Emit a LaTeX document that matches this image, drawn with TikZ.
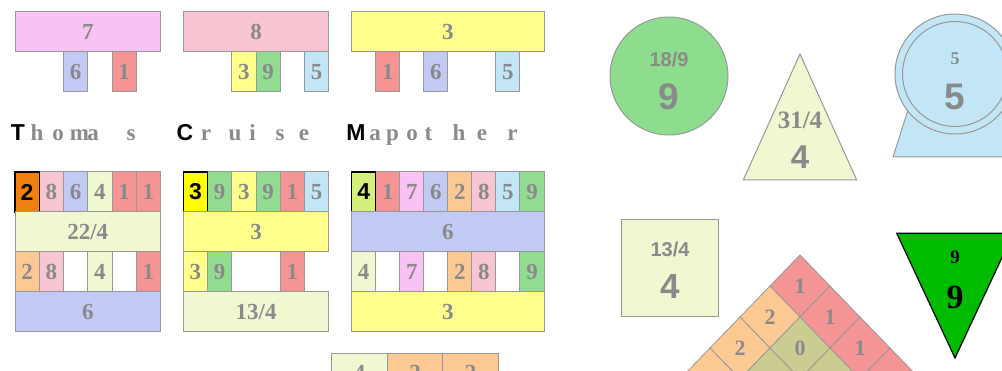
\documentclass[tikz,border=0pt]{standalone}
\usepackage{fontspec}
\setmainfont{Liberation Serif}
\newfontfamily\sansf{Liberation Sans}
\definecolor{txt}{HTML}{8A8A8A}
\definecolor{bord}{HTML}{989898}
\definecolor{cMag}{HTML}{F8C2F2}
\definecolor{cPink}{HTML}{F8C6D2}
\definecolor{cYel}{HTML}{FFFF8C}
\definecolor{cBlue}{HTML}{C2CAF4}
\definecolor{cRed}{HTML}{F49494}
\definecolor{cGreen}{HTML}{92DC92}
\definecolor{cLBlue}{HTML}{C2E6F6}
\definecolor{cLG}{HTML}{F0F8D2}
\definecolor{cOr}{HTML}{FCC992}
\definecolor{cDOr}{HTML}{F08010}
\definecolor{cBY}{HTML}{FFFF00}
\definecolor{cYG}{HTML}{D4F07A}
\definecolor{cOlive}{HTML}{CACC92}
\definecolor{cCirc}{HTML}{8EDC8E}
\definecolor{cGT}{HTML}{00BB00}
\tikzset{
  cell/.style={draw=bord, line width=1pt, inner sep=0pt, outer sep=0pt,
    minimum height=40pt, text=txt, font=\bfseries\fontsize{23}{23}\selectfont},
  boldcell/.style={cell, draw=black, line width=1.4pt, text=black,
    font=\sansf\bfseries\fontsize{23}{23}\selectfont},
  capl/.style={inner sep=0pt, anchor=base, text=black, font=\sansf\bfseries\fontsize{23}{23}\selectfont},
  lowl/.style={inner sep=0pt, anchor=base, text=txt, font=\bfseries\fontsize{23}{23}\selectfont},
  shp/.style={draw=bord, line width=1pt},
  lbl/.style={inner sep=0pt, text=txt},
}
\begin{document}
\begin{tikzpicture}[x=1pt,y=-1pt]
\useasboundingbox (0,0) rectangle (1002,371);
\clip (0,0) rectangle (1002,371);
% ---------- top boxes ----------
\def\w{24.25}
\node[cell, fill=cMag, minimum width=145.5pt] (t7) at (87.75,32) {7};
\node[cell, fill=cBlue, minimum width=\w pt] (t7a) at ({15+\w*2.5},72) {6};
\node[cell, fill=cRed, minimum width=\w pt] (t7b) at ({15+\w*4.5},72) {1};
\node[cell, fill=cPink, minimum width=145.5pt] (t8) at (256.05,32) {8};
\node[cell, fill=cYel, minimum width=\w pt] (t8a) at ({183.3+\w*2.5},72) {3};
\node[cell, fill=cGreen, minimum width=\w pt] (t8b) at ({183.3+\w*3.5},72) {9};
\node[cell, fill=cLBlue, minimum width=\w pt] (t8c) at ({183.3+\w*5.5},72) {5};
\def\v{24.04}
\node[cell, fill=cYel, minimum width=192.3pt] (t3) at (447.85,32) {3};
\node[cell, fill=cRed, minimum width=\v pt] (t3a) at ({351.7+\v*1.5},72) {1};
\node[cell, fill=cBlue, minimum width=\v pt] (t3b) at ({351.7+\v*3.5},72) {6};
\node[cell, fill=cLBlue, minimum width=\v pt] (t3c) at ({351.7+\v*6.5},72) {5};
% ---------- names ----------
\node[capl] (nT) at (18,141) {T};
\node[lowl] (n1) at (37,141) {h};
\node[lowl] (n2) at (58,141) {o};
\node[lowl] (n3) at (79.5,141) {m};
\node[lowl] (n4) at (93,141) {a};
\node[lowl] (n5) at (131,141) {s};
\node[capl] (nC) at (185,141) {C};
\node[lowl] (c1) at (206,141) {r};
\node[lowl] (c2) at (235,141) {u};
\node[lowl] (c3) at (252.5,141) {i};
\node[lowl] (c4) at (280,141) {s};
\node[lowl] (c5) at (304,141) {e};
\node[capl] (nM) at (356,141) {M};
\node[lowl] (m1) at (375,141) {a};
\node[lowl] (m2) at (392.5,141) {p};
\node[lowl] (m3) at (412,141) {o};
\node[lowl] (m4) at (428.5,141) {t};
\node[lowl] (m5) at (459,141) {h};
\node[lowl] (m6) at (482,141) {e};
\node[lowl] (m7) at (512.5,141) {r};
% ---------- Thomas grid ----------
\foreach \i/\c/\t in {1/cPink/8, 2/cBlue/6, 3/cLG/4, 4/cRed/1, 5/cRed/1}
  \node[cell, fill=\c, minimum width=\w pt] (th1\i) at ({15+\w*(\i+0.5)},192) {\t};
\node[boldcell, fill=cDOr, minimum width=\w pt] (th10) at ({15+\w*0.5},192) {2};
\node[cell, fill=cLG, minimum width=145.5pt] (th2) at (87.75,232) {22/4};
\foreach \i/\c/\t in {0/cOr/2, 1/cPink/8, 3/cLG/4, 5/cRed/1}
  \node[cell, fill=\c, minimum width=\w pt] (th3\i) at ({15+\w*(\i+0.5)},272) {\t};
\node[cell, fill=cBlue, minimum width=145.5pt] (th4) at (87.75,312) {6};
% ---------- Cruise grid ----------
\foreach \i/\c/\t in {1/cGreen/9, 2/cYel/3, 3/cGreen/9, 4/cRed/1, 5/cLBlue/5}
  \node[cell, fill=\c, minimum width=\w pt] (cr1\i) at ({183.3+\w*(\i+0.5)},192) {\t};
\node[boldcell, fill=cBY, minimum width=\w pt] (cr10) at ({183.3+\w*0.5},192) {3};
\node[cell, fill=cYel, minimum width=145.5pt] (cr2) at (256.05,232) {3};
\foreach \i/\c/\t in {0/cYel/3, 1/cGreen/9, 4/cRed/1}
  \node[cell, fill=\c, minimum width=\w pt] (cr3\i) at ({183.3+\w*(\i+0.5)},272) {\t};
\node[cell, fill=cLG, minimum width=145.5pt] (cr4) at (256.05,312) {13/4};
% ---------- Mapother grid ----------
\foreach \i/\c/\t in {1/cRed/1, 2/cMag/7, 3/cBlue/6, 4/cOr/2, 5/cPink/8, 6/cLBlue/5, 7/cGreen/9}
  \node[cell, fill=\c, minimum width=\v pt] (ma1\i) at ({351.7+\v*(\i+0.5)},192) {\t};
\node[boldcell, fill=cYG, minimum width=\v pt] (ma10) at ({351.7+\v*0.5},192) {4};
\node[cell, fill=cBlue, minimum width=192.3pt] (ma2) at (447.85,232) {6};
\foreach \i/\c/\t in {0/cLG/4, 2/cMag/7, 4/cOr/2, 5/cPink/8, 7/cGreen/9}
  \node[cell, fill=\c, minimum width=\v pt] (ma3\i) at ({351.7+\v*(\i+0.5)},272) {\t};
\node[cell, fill=cYel, minimum width=192.3pt] (ma4) at (447.85,312) {3};
% ---------- bottom partial row ----------
\node[cell, fill=cLG, minimum width=55.6pt] (b1) at (359.5,373.3) {4};
\node[cell, fill=cOr, minimum width=55.6pt] (b2) at (415.0,373.3) {2};
\node[cell, fill=cOr, minimum width=55.6pt] (b3) at (470.5,373.3) {2};
% ---------- green circle ----------
\node[shp, circle, fill=cCirc, minimum size=118pt, inner sep=0pt] (circ) at (669,76) {};
\node[lbl, font=\sansf\bfseries\fontsize{20}{20}\selectfont] (circa) at (669,59) {18/9};
\node[lbl, font=\sansf\bfseries\fontsize{37}{37}\selectfont] (circb) at (669,97) {9};
% ---------- yellow triangle ----------
\coordinate (ta) at (800,54);
\coordinate (tb) at (856.7,180);
\coordinate (tc) at (743.3,180);
\filldraw[shp, fill=cLG] (ta) -- (tb) -- (tc) -- cycle;
\node[lbl, font=\bfseries\fontsize{25}{25}\selectfont] (tria) at (800,120) {31/4};
\node[lbl, font=\sansf\bfseries\fontsize{33}{33}\selectfont] (trib) at (800,157) {4};
% ---------- blue shape ----------
\coordinate (ba) at (893,157);
\coordinate (bb) at (908,110);
\coordinate (bc) at (1002,110);
\coordinate (bd) at (1017,157);
\filldraw[shp, fill=cLBlue] (ba) -- (bb) -- (bc) -- (bd) -- cycle;
\node[shp, circle, fill=cLBlue, minimum size=120pt, inner sep=0pt] (bco) at (955,74) {};
\node[shp, circle, minimum size=105pt, inner sep=0pt] (bci) at (955,74) {};
\node[lbl, font=\bfseries\fontsize{18}{18}\selectfont] (bca) at (955,59) {5};
\node[lbl, font=\sansf\bfseries\fontsize{37}{37}\selectfont] (bcb) at (955,97) {5};
% ---------- square ----------
\node[shp, fill=cLG, minimum width=96.6pt, minimum height=96.7pt, inner sep=0pt] (sq) at (670,267.7) {};
\node[lbl, font=\sansf\bfseries\fontsize{20}{20}\selectfont] (sqa) at (670,249) {13/4};
\node[lbl, font=\sansf\bfseries\fontsize{35}{35}\selectfont] (sqb) at (670,286) {4};
% ---------- green inverted triangle ----------
\coordinate (ga) at (896.7,233.3);
\coordinate (gb) at (1013.3,233.3);
\coordinate (gc) at (955,358);
\filldraw[draw=black, line width=1.2pt, fill=cGT] (ga) -- (gb) -- (gc) -- cycle;
\node[inner sep=0pt, font=\bfseries\fontsize{19}{19}\selectfont] (gta) at (955,257) {9};
\node[inner sep=0pt, font=\bfseries\fontsize{34}{34}\selectfont] (gtb) at (955,297) {9};
% ---------- lattice ----------
\foreach \r in {0,...,4} {
  \foreach \j in {0,...,\r} {
    \pgfmathsetmacro{\cx}{800+30*(2*\j-\r)}
    \pgfmathsetmacro{\cy}{255+31*(\r+1)}
    \ifnum\j=\r
      \def\cc{cRed}\def\tt{1}
    \else\ifnum\j=0
      \def\cc{cOr}\def\tt{2}
    \else
      \def\cc{cOlive}\def\tt{0}
    \fi\fi
    \filldraw[shp, line width=0.8pt, fill=\cc] (\cx,\cy-31) -- (\cx+30,\cy) -- (\cx,\cy+31) -- (\cx-30,\cy) -- cycle;
    \node[lbl, font=\bfseries\fontsize{22}{22}\selectfont] (lat\r\j) at (\cx,\cy) {\tt};
  }
}
\end{tikzpicture}
\end{document}
